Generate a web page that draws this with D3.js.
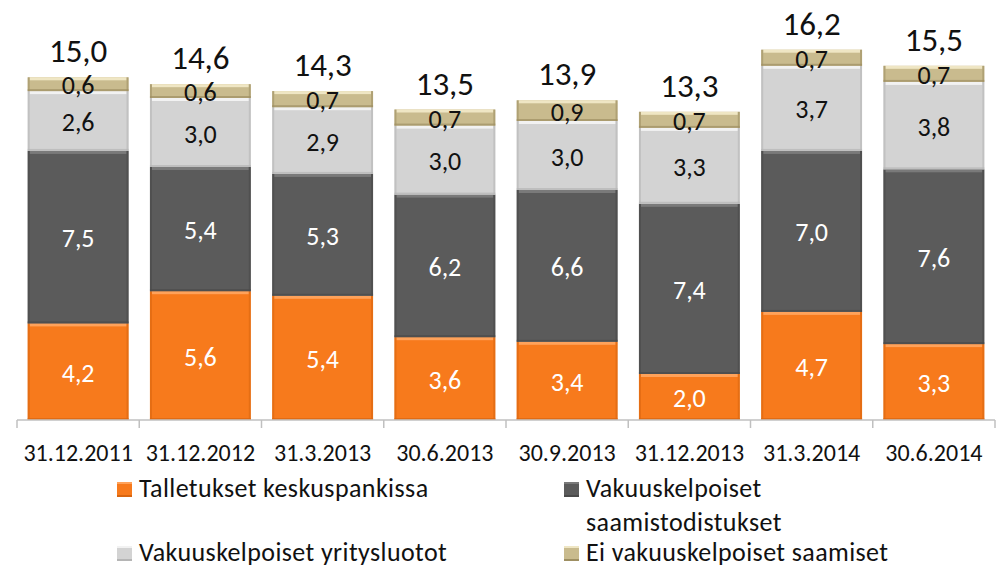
<!DOCTYPE html>
<html>
<head>
<meta charset="utf-8">
<script src="https://cdn.jsdelivr.net/npm/d3@7"></script>
<style>
  html, body { margin: 0; padding: 0; background: #fff; }
  svg { display: block; font-family: Carlito, Lato, "Open Sans", sans-serif; }
</style>
</head>
<body>
<svg id="chart" width="1000" height="568"></svg>
<script>
const categories = ["31.12.2011", "31.12.2012", "31.3.2013", "30.6.2013", "30.9.2013", "31.12.2013", "31.3.2014", "30.6.2014"];
const seriesNames = ["Talletukset keskuspankissa", "Vakuuskelpoiset saamistodistukset", "Vakuuskelpoiset yritysluotot", "Ei vakuuskelpoiset saamiset"];
const talletukset = [4.2, 5.6, 5.4, 3.6, 3.4, 2.0, 4.7, 3.3];
const saamistodistukset = [7.5, 5.4, 5.3, 6.2, 6.6, 7.4, 7.0, 7.6];
const yritysluotot = [2.6, 3.0, 2.9, 3.0, 3.0, 3.3, 3.7, 3.8];
const eiVakuuskelpoiset = [0.6, 0.6, 0.7, 0.7, 0.9, 0.7, 0.7, 0.7];
const totals = [15.0, 14.6, 14.3, 13.5, 13.9, 13.3, 16.2, 15.5];

const seriesValues = [talletukset, saamistodistukset, yritysluotot, eiVakuuskelpoiset];
const colors = ["#f77a1c", "#5b5b5b", "#d3d3d3", "#c9bb8e"];
const topHi = ["#ffa25a", "#7a7a7a", "#f2f2f2", "#efe6c4"];
const edgeDk = ["#d8650f", "#4a4a4a", "#b5b5b5", "#9e8f62"];
const labelColors = ["#ffffff", "#ffffff", "#111111", "#111111"];

const fmt = v => v.toFixed(1).replace(".", ",");

const svg = d3.select("#chart");
const baseY = 420;
const x = d3.scaleBand().domain(categories).range([17, 995]).paddingInner(0.175).paddingOuter(0.0875);
const y = d3.scaleLinear().domain([0, 17]).range([baseY, baseY - 17 * 23]);

const rows = categories.map((c, i) => {
  const r = { cat: c };
  seriesNames.forEach((s, k) => r[s] = seriesValues[k][i]);
  return r;
});
const stack = d3.stack().keys(seriesNames)(rows);

const bw = x.bandwidth();
stack.forEach((layer, k) => {
  const g = svg.append("g");
  layer.forEach(d => {
    const x0 = x(d.data.cat);
    const yt = y(d[1]), yb = y(d[0]);
    const h = yb - yt;
    g.append("rect").attr("x", x0).attr("y", yt).attr("width", bw).attr("height", h).attr("fill", colors[k]);
    g.append("rect").attr("x", x0 + 2).attr("y", yt).attr("width", bw - 4).attr("height", Math.min(3, h / 3)).attr("fill", topHi[k]);
    g.append("rect").attr("x", x0).attr("y", yt).attr("width", 2).attr("height", h).attr("fill", edgeDk[k]).attr("opacity", 0.6);
    g.append("rect").attr("x", x0 + bw - 2).attr("y", yt).attr("width", 2).attr("height", h).attr("fill", edgeDk[k]).attr("opacity", 0.6);
    g.append("rect").attr("x", x0).attr("y", yb - Math.min(2, h / 4)).attr("width", bw).attr("height", Math.min(2, h / 4)).attr("fill", edgeDk[k]).attr("opacity", 0.7);
    g.append("text")
      .attr("x", x0 + bw / 2).attr("y", (yt + yb) / 2 + 1)
      .attr("text-anchor", "middle").attr("dominant-baseline", "central")
      .attr("font-size", 26).attr("fill", labelColors[k])
      .text(fmt(d.data[seriesNames[k]]));
  });
});

// totals
const topStack = stack[stack.length - 1];
svg.append("g").selectAll("text").data(categories).join("text")
  .attr("x", c => x(c) + bw / 2)
  .attr("y", (c, i) => y(topStack[i][1]) - 15)
  .attr("text-anchor", "middle").attr("font-size", 33).attr("fill", "#111")
  .text((c, i) => fmt(totals[i]));

// axis
const axisG = svg.append("g").attr("transform", `translate(0,${baseY})`);
axisG.append("line").attr("x1", 17).attr("x2", 995).attr("y1", 0).attr("y2", 0).attr("stroke", "#c0c0c0").attr("stroke-width", 1.5);
const step = x.step();
const bounds = d3.range(categories.length + 1).map(i => 17 + i * step);
axisG.selectAll("line.tick").data(bounds).join("line").attr("class", "tick")
  .attr("x1", d => d).attr("x2", d => d).attr("y1", 0).attr("y2", 8)
  .attr("stroke", "#c0c0c0").attr("stroke-width", 1.5);
axisG.selectAll("text").data(categories).join("text")
  .attr("x", c => x(c) + bw / 2).attr("y", 41)
  .attr("text-anchor", "middle").attr("font-size", 24).attr("fill", "#111")
  .text(c => c);

// legend
const legendItems = [
  { k: 0, x: 117, y: 482, lines: ["Talletukset keskuspankissa"] },
  { k: 1, x: 564, y: 482, lines: ["Vakuuskelpoiset", "saamistodistukset"] },
  { k: 2, x: 117, y: 546, lines: ["Vakuuskelpoiset yritysluotot"] },
  { k: 3, x: 564, y: 546, lines: ["Ei vakuuskelpoiset saamiset"] }
];
const lg = svg.append("g");
legendItems.forEach(it => {
  lg.append("rect").attr("x", it.x).attr("y", it.y).attr("width", 15).attr("height", 15).attr("fill", colors[it.k]);
  lg.append("rect").attr("x", it.x).attr("y", it.y).attr("width", 15).attr("height", 2).attr("fill", topHi[it.k]);
  lg.append("rect").attr("x", it.x).attr("y", it.y + 13).attr("width", 15).attr("height", 2).attr("fill", edgeDk[it.k]);
  it.lines.forEach((t, j) => {
    lg.append("text").attr("x", it.x + 22).attr("y", it.y + 15 + j * 34)
      .attr("font-size", 26).attr("letter-spacing", 0.4).attr("fill", "#111").text(t);
  });
});
</script>
</body>
</html>
